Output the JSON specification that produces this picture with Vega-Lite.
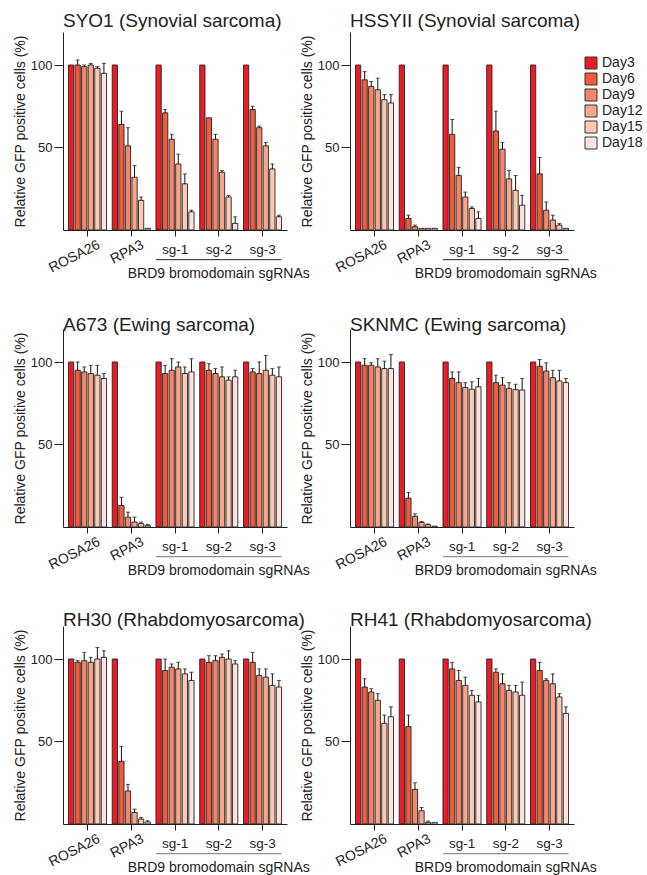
{
"$schema":"https://vega.github.io/schema/vega-lite/v6.json",
"padding":{"left":13,"top":12,"right":0,"bottom":0},
"columns":2,
"spacing":{"row":99,"column":63},
"bounds":"flush",
"datasets":{
"anno":[{"from":"sg-1","to":"sg-3","mid":"sg-2","label":"BRD9 bromodomain sgRNAs"}],
"rotlab":[{"lab":"ROSA26"},{"lab":"RPA3"}],
"flatlab":[{"lab":"sg-1"},{"lab":"sg-2"},{"lab":"sg-3"}],
"main":[
{"cell":"SYO1","group":"ROSA26","day":"Day3","value":100},
{"cell":"SYO1","group":"ROSA26","day":"Day6","value":100,"upper":103},
{"cell":"SYO1","group":"ROSA26","day":"Day9","value":99,"upper":100},
{"cell":"SYO1","group":"ROSA26","day":"Day12","value":100,"upper":101},
{"cell":"SYO1","group":"ROSA26","day":"Day15","value":98,"upper":99},
{"cell":"SYO1","group":"ROSA26","day":"Day18","value":95,"upper":101},
{"cell":"SYO1","group":"RPA3","day":"Day3","value":100},
{"cell":"SYO1","group":"RPA3","day":"Day6","value":64,"upper":72},
{"cell":"SYO1","group":"RPA3","day":"Day9","value":51,"upper":62},
{"cell":"SYO1","group":"RPA3","day":"Day12","value":32,"upper":39},
{"cell":"SYO1","group":"RPA3","day":"Day15","value":18,"upper":20},
{"cell":"SYO1","group":"RPA3","day":"Day18","value":1},
{"cell":"SYO1","group":"sg-1","day":"Day3","value":100},
{"cell":"SYO1","group":"sg-1","day":"Day6","value":71,"upper":73},
{"cell":"SYO1","group":"sg-1","day":"Day9","value":55,"upper":58},
{"cell":"SYO1","group":"sg-1","day":"Day12","value":40,"upper":46},
{"cell":"SYO1","group":"sg-1","day":"Day15","value":28,"upper":34},
{"cell":"SYO1","group":"sg-1","day":"Day18","value":11,"upper":12},
{"cell":"SYO1","group":"sg-2","day":"Day3","value":100},
{"cell":"SYO1","group":"sg-2","day":"Day6","value":68},
{"cell":"SYO1","group":"sg-2","day":"Day9","value":55,"upper":58},
{"cell":"SYO1","group":"sg-2","day":"Day12","value":35,"upper":36},
{"cell":"SYO1","group":"sg-2","day":"Day15","value":20,"upper":21},
{"cell":"SYO1","group":"sg-2","day":"Day18","value":4,"upper":8},
{"cell":"SYO1","group":"sg-3","day":"Day3","value":100},
{"cell":"SYO1","group":"sg-3","day":"Day6","value":73,"upper":75},
{"cell":"SYO1","group":"sg-3","day":"Day9","value":62,"upper":63},
{"cell":"SYO1","group":"sg-3","day":"Day12","value":51,"upper":53},
{"cell":"SYO1","group":"sg-3","day":"Day15","value":37,"upper":40},
{"cell":"SYO1","group":"sg-3","day":"Day18","value":8,"upper":9},
{"cell":"HSSYII","group":"ROSA26","day":"Day3","value":100},
{"cell":"HSSYII","group":"ROSA26","day":"Day6","value":91,"upper":96},
{"cell":"HSSYII","group":"ROSA26","day":"Day9","value":87,"upper":90},
{"cell":"HSSYII","group":"ROSA26","day":"Day12","value":85,"upper":92},
{"cell":"HSSYII","group":"ROSA26","day":"Day15","value":79,"upper":82},
{"cell":"HSSYII","group":"ROSA26","day":"Day18","value":77,"upper":82},
{"cell":"HSSYII","group":"RPA3","day":"Day3","value":100},
{"cell":"HSSYII","group":"RPA3","day":"Day6","value":7,"upper":9},
{"cell":"HSSYII","group":"RPA3","day":"Day9","value":2,"upper":3},
{"cell":"HSSYII","group":"RPA3","day":"Day12","value":1},
{"cell":"HSSYII","group":"RPA3","day":"Day15","value":1},
{"cell":"HSSYII","group":"RPA3","day":"Day18","value":1},
{"cell":"HSSYII","group":"sg-1","day":"Day3","value":100},
{"cell":"HSSYII","group":"sg-1","day":"Day6","value":58,"upper":67},
{"cell":"HSSYII","group":"sg-1","day":"Day9","value":33,"upper":38},
{"cell":"HSSYII","group":"sg-1","day":"Day12","value":20,"upper":23},
{"cell":"HSSYII","group":"sg-1","day":"Day15","value":13,"upper":14},
{"cell":"HSSYII","group":"sg-1","day":"Day18","value":7,"upper":11},
{"cell":"HSSYII","group":"sg-2","day":"Day3","value":100},
{"cell":"HSSYII","group":"sg-2","day":"Day6","value":60,"upper":72},
{"cell":"HSSYII","group":"sg-2","day":"Day9","value":49,"upper":53},
{"cell":"HSSYII","group":"sg-2","day":"Day12","value":31,"upper":36},
{"cell":"HSSYII","group":"sg-2","day":"Day15","value":24,"upper":33},
{"cell":"HSSYII","group":"sg-2","day":"Day18","value":15,"upper":21},
{"cell":"HSSYII","group":"sg-3","day":"Day3","value":100},
{"cell":"HSSYII","group":"sg-3","day":"Day6","value":34,"upper":44},
{"cell":"HSSYII","group":"sg-3","day":"Day9","value":12,"upper":17},
{"cell":"HSSYII","group":"sg-3","day":"Day12","value":6,"upper":9},
{"cell":"HSSYII","group":"sg-3","day":"Day15","value":3,"upper":4},
{"cell":"HSSYII","group":"sg-3","day":"Day18","value":1},
{"cell":"A673","group":"ROSA26","day":"Day3","value":100},
{"cell":"A673","group":"ROSA26","day":"Day6","value":95,"upper":100},
{"cell":"A673","group":"ROSA26","day":"Day9","value":94,"upper":97},
{"cell":"A673","group":"ROSA26","day":"Day12","value":93,"upper":98},
{"cell":"A673","group":"ROSA26","day":"Day15","value":92,"upper":98},
{"cell":"A673","group":"ROSA26","day":"Day18","value":90,"upper":93},
{"cell":"A673","group":"RPA3","day":"Day3","value":100},
{"cell":"A673","group":"RPA3","day":"Day6","value":13,"upper":18},
{"cell":"A673","group":"RPA3","day":"Day9","value":6,"upper":9},
{"cell":"A673","group":"RPA3","day":"Day12","value":3,"upper":6},
{"cell":"A673","group":"RPA3","day":"Day15","value":2,"upper":3},
{"cell":"A673","group":"RPA3","day":"Day18","value":1,"upper":1.6},
{"cell":"A673","group":"sg-1","day":"Day3","value":100},
{"cell":"A673","group":"sg-1","day":"Day6","value":93,"upper":98},
{"cell":"A673","group":"sg-1","day":"Day9","value":95,"upper":102},
{"cell":"A673","group":"sg-1","day":"Day12","value":97,"upper":100},
{"cell":"A673","group":"sg-1","day":"Day15","value":93,"upper":97},
{"cell":"A673","group":"sg-1","day":"Day18","value":94,"upper":102},
{"cell":"A673","group":"sg-2","day":"Day3","value":100},
{"cell":"A673","group":"sg-2","day":"Day6","value":95,"upper":99},
{"cell":"A673","group":"sg-2","day":"Day9","value":93,"upper":96},
{"cell":"A673","group":"sg-2","day":"Day12","value":91,"upper":97},
{"cell":"A673","group":"sg-2","day":"Day15","value":89,"upper":91},
{"cell":"A673","group":"sg-2","day":"Day18","value":91,"upper":95},
{"cell":"A673","group":"sg-3","day":"Day3","value":100},
{"cell":"A673","group":"sg-3","day":"Day6","value":94,"upper":96},
{"cell":"A673","group":"sg-3","day":"Day9","value":93,"upper":100},
{"cell":"A673","group":"sg-3","day":"Day12","value":95,"upper":104},
{"cell":"A673","group":"sg-3","day":"Day15","value":92,"upper":96},
{"cell":"A673","group":"sg-3","day":"Day18","value":91,"upper":97},
{"cell":"SKNMC","group":"ROSA26","day":"Day3","value":100},
{"cell":"SKNMC","group":"ROSA26","day":"Day6","value":98,"upper":102},
{"cell":"SKNMC","group":"ROSA26","day":"Day9","value":98,"upper":99.5},
{"cell":"SKNMC","group":"ROSA26","day":"Day12","value":97,"upper":102},
{"cell":"SKNMC","group":"ROSA26","day":"Day15","value":96,"upper":100.5},
{"cell":"SKNMC","group":"ROSA26","day":"Day18","value":96,"upper":104.5},
{"cell":"SKNMC","group":"RPA3","day":"Day3","value":100},
{"cell":"SKNMC","group":"RPA3","day":"Day6","value":17.5,"upper":21},
{"cell":"SKNMC","group":"RPA3","day":"Day9","value":6.5,"upper":8},
{"cell":"SKNMC","group":"RPA3","day":"Day12","value":2.8,"upper":3.3},
{"cell":"SKNMC","group":"RPA3","day":"Day15","value":1.4,"upper":1.8},
{"cell":"SKNMC","group":"RPA3","day":"Day18","value":0.5},
{"cell":"SKNMC","group":"sg-1","day":"Day3","value":100},
{"cell":"SKNMC","group":"sg-1","day":"Day6","value":90,"upper":94},
{"cell":"SKNMC","group":"sg-1","day":"Day9","value":87.5,"upper":94},
{"cell":"SKNMC","group":"sg-1","day":"Day12","value":84.5,"upper":87.5},
{"cell":"SKNMC","group":"sg-1","day":"Day15","value":83.5,"upper":88},
{"cell":"SKNMC","group":"sg-1","day":"Day18","value":85,"upper":90},
{"cell":"SKNMC","group":"sg-2","day":"Day3","value":100},
{"cell":"SKNMC","group":"sg-2","day":"Day6","value":87.5,"upper":92},
{"cell":"SKNMC","group":"sg-2","day":"Day9","value":86,"upper":90.5},
{"cell":"SKNMC","group":"sg-2","day":"Day12","value":84,"upper":87.5},
{"cell":"SKNMC","group":"sg-2","day":"Day15","value":83.3,"upper":86.5},
{"cell":"SKNMC","group":"sg-2","day":"Day18","value":83,"upper":90},
{"cell":"SKNMC","group":"sg-3","day":"Day3","value":100},
{"cell":"SKNMC","group":"sg-3","day":"Day6","value":97.4,"upper":101.5},
{"cell":"SKNMC","group":"sg-3","day":"Day9","value":94.5,"upper":99.5},
{"cell":"SKNMC","group":"sg-3","day":"Day12","value":90.5,"upper":95},
{"cell":"SKNMC","group":"sg-3","day":"Day15","value":88.5,"upper":95},
{"cell":"SKNMC","group":"sg-3","day":"Day18","value":87.5,"upper":90},
{"cell":"RH30","group":"ROSA26","day":"Day3","value":100},
{"cell":"RH30","group":"ROSA26","day":"Day6","value":98,"upper":99},
{"cell":"RH30","group":"ROSA26","day":"Day9","value":99,"upper":104},
{"cell":"RH30","group":"ROSA26","day":"Day12","value":98,"upper":101},
{"cell":"RH30","group":"ROSA26","day":"Day15","value":100,"upper":107},
{"cell":"RH30","group":"ROSA26","day":"Day18","value":101,"upper":105},
{"cell":"RH30","group":"RPA3","day":"Day3","value":100},
{"cell":"RH30","group":"RPA3","day":"Day6","value":38,"upper":47},
{"cell":"RH30","group":"RPA3","day":"Day9","value":20,"upper":24},
{"cell":"RH30","group":"RPA3","day":"Day12","value":7,"upper":9},
{"cell":"RH30","group":"RPA3","day":"Day15","value":3,"upper":4},
{"cell":"RH30","group":"RPA3","day":"Day18","value":1.2,"upper":2},
{"cell":"RH30","group":"sg-1","day":"Day3","value":100},
{"cell":"RH30","group":"sg-1","day":"Day6","value":93,"upper":100},
{"cell":"RH30","group":"sg-1","day":"Day9","value":95,"upper":97},
{"cell":"RH30","group":"sg-1","day":"Day12","value":94,"upper":98},
{"cell":"RH30","group":"sg-1","day":"Day15","value":91,"upper":94},
{"cell":"RH30","group":"sg-1","day":"Day18","value":87,"upper":92},
{"cell":"RH30","group":"sg-2","day":"Day3","value":100},
{"cell":"RH30","group":"sg-2","day":"Day6","value":98,"upper":102},
{"cell":"RH30","group":"sg-2","day":"Day9","value":99,"upper":102},
{"cell":"RH30","group":"sg-2","day":"Day12","value":101,"upper":103},
{"cell":"RH30","group":"sg-2","day":"Day15","value":100,"upper":105},
{"cell":"RH30","group":"sg-2","day":"Day18","value":97,"upper":99},
{"cell":"RH30","group":"sg-3","day":"Day3","value":100},
{"cell":"RH30","group":"sg-3","day":"Day6","value":98,"upper":104},
{"cell":"RH30","group":"sg-3","day":"Day9","value":90,"upper":94},
{"cell":"RH30","group":"sg-3","day":"Day12","value":89,"upper":94},
{"cell":"RH30","group":"sg-3","day":"Day15","value":84,"upper":91},
{"cell":"RH30","group":"sg-3","day":"Day18","value":83,"upper":87},
{"cell":"RH41","group":"ROSA26","day":"Day3","value":100},
{"cell":"RH41","group":"ROSA26","day":"Day6","value":83,"upper":88},
{"cell":"RH41","group":"ROSA26","day":"Day9","value":80,"upper":82},
{"cell":"RH41","group":"ROSA26","day":"Day12","value":75,"upper":79},
{"cell":"RH41","group":"ROSA26","day":"Day15","value":61,"upper":66},
{"cell":"RH41","group":"ROSA26","day":"Day18","value":65,"upper":71},
{"cell":"RH41","group":"RPA3","day":"Day3","value":100},
{"cell":"RH41","group":"RPA3","day":"Day6","value":59,"upper":66},
{"cell":"RH41","group":"RPA3","day":"Day9","value":21,"upper":25},
{"cell":"RH41","group":"RPA3","day":"Day12","value":8,"upper":10},
{"cell":"RH41","group":"RPA3","day":"Day15","value":1,"upper":1.8},
{"cell":"RH41","group":"RPA3","day":"Day18","value":1},
{"cell":"RH41","group":"sg-1","day":"Day3","value":100},
{"cell":"RH41","group":"sg-1","day":"Day6","value":94,"upper":98},
{"cell":"RH41","group":"sg-1","day":"Day9","value":87,"upper":93},
{"cell":"RH41","group":"sg-1","day":"Day12","value":84,"upper":89},
{"cell":"RH41","group":"sg-1","day":"Day15","value":78,"upper":81},
{"cell":"RH41","group":"sg-1","day":"Day18","value":74,"upper":78},
{"cell":"RH41","group":"sg-2","day":"Day3","value":100},
{"cell":"RH41","group":"sg-2","day":"Day6","value":92,"upper":94},
{"cell":"RH41","group":"sg-2","day":"Day9","value":85,"upper":91},
{"cell":"RH41","group":"sg-2","day":"Day12","value":81,"upper":84},
{"cell":"RH41","group":"sg-2","day":"Day15","value":80,"upper":84},
{"cell":"RH41","group":"sg-2","day":"Day18","value":78,"upper":86},
{"cell":"RH41","group":"sg-3","day":"Day3","value":100},
{"cell":"RH41","group":"sg-3","day":"Day6","value":93,"upper":98},
{"cell":"RH41","group":"sg-3","day":"Day9","value":87,"upper":88},
{"cell":"RH41","group":"sg-3","day":"Day12","value":85,"upper":91},
{"cell":"RH41","group":"sg-3","day":"Day15","value":77,"upper":79},
{"cell":"RH41","group":"sg-3","day":"Day18","value":67,"upper":71}
]},
"resolve":{"scale":{"color":"shared"},"legend":{"color":"shared"}},
"concat":[
{"title":{"text":"SYO1 (Synovial sarcoma)","offset":1},"width":224,"height":198,"layer":[
{"data":{"name":"main"},"transform":[{"filter":"datum.cell==='SYO1'"}],"mark":{"type":"bar","stroke":"#222","strokeWidth":0.9},"encoding":{
"x":{"field":"group","type":"nominal","scale":{"domain":["ROSA26","RPA3","sg-1","sg-2","sg-3"],"paddingInner":0.13,"paddingOuter":0.125},"axis":{"title":null,"labels":false}},
"xOffset":{"field":"day","type":"nominal","scale":{"domain":["Day3","Day6","Day9","Day12","Day15","Day18"],"paddingInner":0.2}},
"y":{"field":"value","type":"quantitative","scale":{"domain":[0,120]},"axis":{"values":[50,100],"title":"Relative GFP positive cells (%)"}},
"color":{"field":"day","type":"nominal","scale":{"domain":["Day3","Day6","Day9","Day12","Day15","Day18"],"range":["#ec1c24","#f05b3b","#f4846a","#f7a68a","#fccab4","#fde2dd"]},"legend":{"title":null,"orient":"none","legendX":521,"legendY":24}}}},
{"data":{"name":"main"},"transform":[{"filter":"datum.cell==='SYO1' && datum.upper != null"}],"mark":{"type":"rule","color":"#111","strokeWidth":1},"encoding":{"x":{"field":"group","type":"nominal"},"xOffset":{"field":"day","type":"nominal"},"y":{"field":"value","type":"quantitative"},"y2":{"field":"upper"}}},
{"data":{"name":"main"},"transform":[{"filter":"datum.cell==='SYO1' && datum.upper != null"}],"mark":{"type":"tick","color":"#111","thickness":1,"size":4},"encoding":{"x":{"field":"group","type":"nominal"},"xOffset":{"field":"day","type":"nominal"},"y":{"field":"upper","type":"quantitative"}}},
{"data":{"name":"anno"},"mark":{"type":"rule","color":"#222","strokeWidth":1},"encoding":{"x":{"field":"from","type":"nominal","bandPosition":0},"x2":{"field":"to","bandPosition":1},"y":{"datum":-18,"type":"quantitative"}}},
{"data":{"name":"anno"},"mark":{"type":"text","fontSize":14,"color":"#222","baseline":"alphabetic","dy":48},"encoding":{"x":{"field":"mid","type":"nominal"},"y":{"datum":0,"type":"quantitative"},"text":{"field":"label"}}},
{"data":{"name":"rotlab"},"mark":{"type":"text","fontSize":14,"color":"#222","angle":333,"align":"right","baseline":"top","dx":4,"dy":11},"encoding":{"x":{"field":"lab","type":"nominal"},"y":{"datum":0,"type":"quantitative"},"text":{"field":"lab"}}},
{"data":{"name":"flatlab"},"mark":{"type":"text","fontSize":13.5,"color":"#222","baseline":"alphabetic","dy":23.5},"encoding":{"x":{"field":"lab","type":"nominal"},"y":{"datum":0,"type":"quantitative"},"text":{"field":"lab"}}}
]},
{"title":{"text":"HSSYII (Synovial sarcoma)","offset":1},"width":224,"height":198,"layer":[
{"data":{"name":"main"},"transform":[{"filter":"datum.cell==='HSSYII'"}],"mark":{"type":"bar","stroke":"#222","strokeWidth":0.9},"encoding":{
"x":{"field":"group","type":"nominal","scale":{"domain":["ROSA26","RPA3","sg-1","sg-2","sg-3"],"paddingInner":0.13,"paddingOuter":0.125},"axis":{"title":null,"labels":false}},
"xOffset":{"field":"day","type":"nominal","scale":{"domain":["Day3","Day6","Day9","Day12","Day15","Day18"],"paddingInner":0.2}},
"y":{"field":"value","type":"quantitative","scale":{"domain":[0,120]},"axis":{"values":[50,100],"title":"Relative GFP positive cells (%)"}},
"color":{"field":"day","type":"nominal"}}},
{"data":{"name":"main"},"transform":[{"filter":"datum.cell==='HSSYII' && datum.upper != null"}],"mark":{"type":"rule","color":"#111","strokeWidth":1},"encoding":{"x":{"field":"group","type":"nominal"},"xOffset":{"field":"day","type":"nominal"},"y":{"field":"value","type":"quantitative"},"y2":{"field":"upper"}}},
{"data":{"name":"main"},"transform":[{"filter":"datum.cell==='HSSYII' && datum.upper != null"}],"mark":{"type":"tick","color":"#111","thickness":1,"size":4},"encoding":{"x":{"field":"group","type":"nominal"},"xOffset":{"field":"day","type":"nominal"},"y":{"field":"upper","type":"quantitative"}}},
{"data":{"name":"anno"},"mark":{"type":"rule","color":"#222","strokeWidth":1},"encoding":{"x":{"field":"from","type":"nominal","bandPosition":0},"x2":{"field":"to","bandPosition":1},"y":{"datum":-18,"type":"quantitative"}}},
{"data":{"name":"anno"},"mark":{"type":"text","fontSize":14,"color":"#222","baseline":"alphabetic","dy":48},"encoding":{"x":{"field":"mid","type":"nominal"},"y":{"datum":0,"type":"quantitative"},"text":{"field":"label"}}},
{"data":{"name":"rotlab"},"mark":{"type":"text","fontSize":14,"color":"#222","angle":333,"align":"right","baseline":"top","dx":4,"dy":11},"encoding":{"x":{"field":"lab","type":"nominal"},"y":{"datum":0,"type":"quantitative"},"text":{"field":"lab"}}},
{"data":{"name":"flatlab"},"mark":{"type":"text","fontSize":13.5,"color":"#222","baseline":"alphabetic","dy":23.5},"encoding":{"x":{"field":"lab","type":"nominal"},"y":{"datum":0,"type":"quantitative"},"text":{"field":"lab"}}}
]},
{"title":{"text":"A673 (Ewing sarcoma)","offset":-6},"width":224,"height":198,"layer":[
{"data":{"name":"main"},"transform":[{"filter":"datum.cell==='A673'"}],"mark":{"type":"bar","stroke":"#222","strokeWidth":0.9},"encoding":{
"x":{"field":"group","type":"nominal","scale":{"domain":["ROSA26","RPA3","sg-1","sg-2","sg-3"],"paddingInner":0.13,"paddingOuter":0.125},"axis":{"title":null,"labels":false}},
"xOffset":{"field":"day","type":"nominal","scale":{"domain":["Day3","Day6","Day9","Day12","Day15","Day18"],"paddingInner":0.2}},
"y":{"field":"value","type":"quantitative","scale":{"domain":[0,120]},"axis":{"values":[50,100],"title":"Relative GFP positive cells (%)"}},
"color":{"field":"day","type":"nominal"}}},
{"data":{"name":"main"},"transform":[{"filter":"datum.cell==='A673' && datum.upper != null"}],"mark":{"type":"rule","color":"#111","strokeWidth":1},"encoding":{"x":{"field":"group","type":"nominal"},"xOffset":{"field":"day","type":"nominal"},"y":{"field":"value","type":"quantitative"},"y2":{"field":"upper"}}},
{"data":{"name":"main"},"transform":[{"filter":"datum.cell==='A673' && datum.upper != null"}],"mark":{"type":"tick","color":"#111","thickness":1,"size":4},"encoding":{"x":{"field":"group","type":"nominal"},"xOffset":{"field":"day","type":"nominal"},"y":{"field":"upper","type":"quantitative"}}},
{"data":{"name":"anno"},"mark":{"type":"rule","color":"#777","strokeWidth":1},"encoding":{"x":{"field":"from","type":"nominal","bandPosition":0},"x2":{"field":"to","bandPosition":1},"y":{"datum":-18,"type":"quantitative"}}},
{"data":{"name":"anno"},"mark":{"type":"text","fontSize":14,"color":"#222","baseline":"alphabetic","dy":48},"encoding":{"x":{"field":"mid","type":"nominal"},"y":{"datum":0,"type":"quantitative"},"text":{"field":"label"}}},
{"data":{"name":"rotlab"},"mark":{"type":"text","fontSize":14,"color":"#222","angle":333,"align":"right","baseline":"top","dx":4,"dy":11},"encoding":{"x":{"field":"lab","type":"nominal"},"y":{"datum":0,"type":"quantitative"},"text":{"field":"lab"}}},
{"data":{"name":"flatlab"},"mark":{"type":"text","fontSize":13.5,"color":"#222","baseline":"alphabetic","dy":23.5},"encoding":{"x":{"field":"lab","type":"nominal"},"y":{"datum":0,"type":"quantitative"},"text":{"field":"lab"}}}
]},
{"title":{"text":"SKNMC (Ewing sarcoma)","offset":-6},"width":224,"height":198,"layer":[
{"data":{"name":"main"},"transform":[{"filter":"datum.cell==='SKNMC'"}],"mark":{"type":"bar","stroke":"#222","strokeWidth":0.9},"encoding":{
"x":{"field":"group","type":"nominal","scale":{"domain":["ROSA26","RPA3","sg-1","sg-2","sg-3"],"paddingInner":0.13,"paddingOuter":0.125},"axis":{"title":null,"labels":false}},
"xOffset":{"field":"day","type":"nominal","scale":{"domain":["Day3","Day6","Day9","Day12","Day15","Day18"],"paddingInner":0.2}},
"y":{"field":"value","type":"quantitative","scale":{"domain":[0,120]},"axis":{"values":[50,100],"title":"Relative GFP positive cells (%)"}},
"color":{"field":"day","type":"nominal"}}},
{"data":{"name":"main"},"transform":[{"filter":"datum.cell==='SKNMC' && datum.upper != null"}],"mark":{"type":"rule","color":"#111","strokeWidth":1},"encoding":{"x":{"field":"group","type":"nominal"},"xOffset":{"field":"day","type":"nominal"},"y":{"field":"value","type":"quantitative"},"y2":{"field":"upper"}}},
{"data":{"name":"main"},"transform":[{"filter":"datum.cell==='SKNMC' && datum.upper != null"}],"mark":{"type":"tick","color":"#111","thickness":1,"size":4},"encoding":{"x":{"field":"group","type":"nominal"},"xOffset":{"field":"day","type":"nominal"},"y":{"field":"upper","type":"quantitative"}}},
{"data":{"name":"anno"},"mark":{"type":"rule","color":"#777","strokeWidth":1},"encoding":{"x":{"field":"from","type":"nominal","bandPosition":0},"x2":{"field":"to","bandPosition":1},"y":{"datum":-18,"type":"quantitative"}}},
{"data":{"name":"anno"},"mark":{"type":"text","fontSize":14,"color":"#222","baseline":"alphabetic","dy":48},"encoding":{"x":{"field":"mid","type":"nominal"},"y":{"datum":0,"type":"quantitative"},"text":{"field":"label"}}},
{"data":{"name":"rotlab"},"mark":{"type":"text","fontSize":14,"color":"#222","angle":333,"align":"right","baseline":"top","dx":4,"dy":11},"encoding":{"x":{"field":"lab","type":"nominal"},"y":{"datum":0,"type":"quantitative"},"text":{"field":"lab"}}},
{"data":{"name":"flatlab"},"mark":{"type":"text","fontSize":13.5,"color":"#222","baseline":"alphabetic","dy":23.5},"encoding":{"x":{"field":"lab","type":"nominal"},"y":{"datum":0,"type":"quantitative"},"text":{"field":"lab"}}}
]},
{"title":{"text":"RH30 (Rhabdomyosarcoma)","offset":-4},"width":224,"height":198,"layer":[
{"data":{"name":"main"},"transform":[{"filter":"datum.cell==='RH30'"}],"mark":{"type":"bar","stroke":"#222","strokeWidth":0.9},"encoding":{
"x":{"field":"group","type":"nominal","scale":{"domain":["ROSA26","RPA3","sg-1","sg-2","sg-3"],"paddingInner":0.13,"paddingOuter":0.125},"axis":{"title":null,"labels":false}},
"xOffset":{"field":"day","type":"nominal","scale":{"domain":["Day3","Day6","Day9","Day12","Day15","Day18"],"paddingInner":0.2}},
"y":{"field":"value","type":"quantitative","scale":{"domain":[0,120]},"axis":{"values":[50,100],"title":"Relative GFP positive cells (%)"}},
"color":{"field":"day","type":"nominal"}}},
{"data":{"name":"main"},"transform":[{"filter":"datum.cell==='RH30' && datum.upper != null"}],"mark":{"type":"rule","color":"#111","strokeWidth":1},"encoding":{"x":{"field":"group","type":"nominal"},"xOffset":{"field":"day","type":"nominal"},"y":{"field":"value","type":"quantitative"},"y2":{"field":"upper"}}},
{"data":{"name":"main"},"transform":[{"filter":"datum.cell==='RH30' && datum.upper != null"}],"mark":{"type":"tick","color":"#111","thickness":1,"size":4},"encoding":{"x":{"field":"group","type":"nominal"},"xOffset":{"field":"day","type":"nominal"},"y":{"field":"upper","type":"quantitative"}}},
{"data":{"name":"anno"},"mark":{"type":"rule","color":"#777","strokeWidth":1},"encoding":{"x":{"field":"from","type":"nominal","bandPosition":0},"x2":{"field":"to","bandPosition":1},"y":{"datum":-18,"type":"quantitative"}}},
{"data":{"name":"anno"},"mark":{"type":"text","fontSize":14,"color":"#222","baseline":"alphabetic","dy":48},"encoding":{"x":{"field":"mid","type":"nominal"},"y":{"datum":0,"type":"quantitative"},"text":{"field":"label"}}},
{"data":{"name":"rotlab"},"mark":{"type":"text","fontSize":14,"color":"#222","angle":333,"align":"right","baseline":"top","dx":4,"dy":11},"encoding":{"x":{"field":"lab","type":"nominal"},"y":{"datum":0,"type":"quantitative"},"text":{"field":"lab"}}},
{"data":{"name":"flatlab"},"mark":{"type":"text","fontSize":13.5,"color":"#222","baseline":"alphabetic","dy":23.5},"encoding":{"x":{"field":"lab","type":"nominal"},"y":{"datum":0,"type":"quantitative"},"text":{"field":"lab"}}}
]},
{"title":{"text":"RH41 (Rhabdomyosarcoma)","offset":-4},"width":224,"height":198,"layer":[
{"data":{"name":"main"},"transform":[{"filter":"datum.cell==='RH41'"}],"mark":{"type":"bar","stroke":"#222","strokeWidth":0.9},"encoding":{
"x":{"field":"group","type":"nominal","scale":{"domain":["ROSA26","RPA3","sg-1","sg-2","sg-3"],"paddingInner":0.13,"paddingOuter":0.125},"axis":{"title":null,"labels":false}},
"xOffset":{"field":"day","type":"nominal","scale":{"domain":["Day3","Day6","Day9","Day12","Day15","Day18"],"paddingInner":0.2}},
"y":{"field":"value","type":"quantitative","scale":{"domain":[0,120]},"axis":{"values":[50,100],"title":"Relative GFP positive cells (%)"}},
"color":{"field":"day","type":"nominal"}}},
{"data":{"name":"main"},"transform":[{"filter":"datum.cell==='RH41' && datum.upper != null"}],"mark":{"type":"rule","color":"#111","strokeWidth":1},"encoding":{"x":{"field":"group","type":"nominal"},"xOffset":{"field":"day","type":"nominal"},"y":{"field":"value","type":"quantitative"},"y2":{"field":"upper"}}},
{"data":{"name":"main"},"transform":[{"filter":"datum.cell==='RH41' && datum.upper != null"}],"mark":{"type":"tick","color":"#111","thickness":1,"size":4},"encoding":{"x":{"field":"group","type":"nominal"},"xOffset":{"field":"day","type":"nominal"},"y":{"field":"upper","type":"quantitative"}}},
{"data":{"name":"anno"},"mark":{"type":"rule","color":"#777","strokeWidth":1},"encoding":{"x":{"field":"from","type":"nominal","bandPosition":0},"x2":{"field":"to","bandPosition":1},"y":{"datum":-18,"type":"quantitative"}}},
{"data":{"name":"anno"},"mark":{"type":"text","fontSize":14,"color":"#222","baseline":"alphabetic","dy":48},"encoding":{"x":{"field":"mid","type":"nominal"},"y":{"datum":0,"type":"quantitative"},"text":{"field":"label"}}},
{"data":{"name":"rotlab"},"mark":{"type":"text","fontSize":14,"color":"#222","angle":333,"align":"right","baseline":"top","dx":4,"dy":11},"encoding":{"x":{"field":"lab","type":"nominal"},"y":{"datum":0,"type":"quantitative"},"text":{"field":"lab"}}},
{"data":{"name":"flatlab"},"mark":{"type":"text","fontSize":13.5,"color":"#222","baseline":"alphabetic","dy":23.5},"encoding":{"x":{"field":"lab","type":"nominal"},"y":{"datum":0,"type":"quantitative"},"text":{"field":"lab"}}}
]}
],
"config":{
"font":"Liberation Sans",
"view":{"stroke":null},
"axis":{"grid":false,"domainColor":"#222","tickColor":"#222","labelColor":"#222","titleColor":"#222","titleFontWeight":"normal","domainWidth":1,"tickWidth":1},
"axisX":{"tickSize":6},
"axisY":{"tickSize":9,"labelFontSize":13,"titleFontSize":14,"labelPadding":2,"titlePadding":3},
"title":{"anchor":"start","frame":"group","fontSize":19,"fontWeight":"normal","color":"#222"},
"legend":{"labelFontSize":14,"symbolType":"square","symbolSize":144,"symbolStrokeColor":"#333","symbolStrokeWidth":1,"rowPadding":0,"labelOffset":4,"labelColor":"#222"}
}
}
